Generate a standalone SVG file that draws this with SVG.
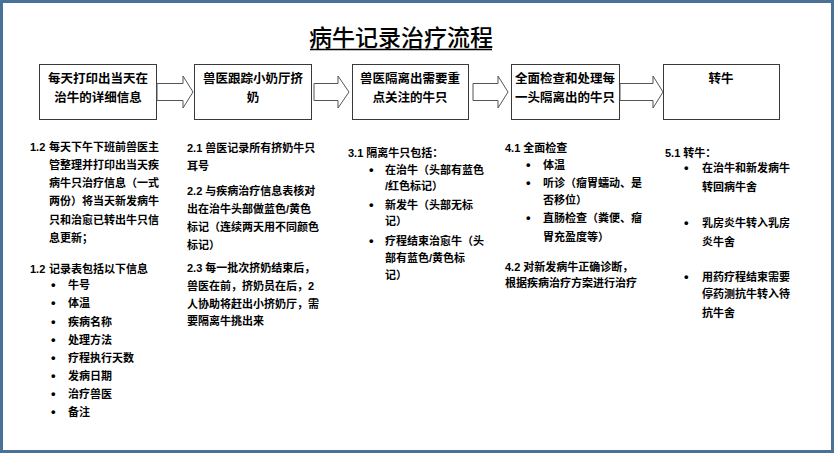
<svg xmlns="http://www.w3.org/2000/svg" width="834" height="453" viewBox="0 0 834 453">
<style>
  .frame { fill: #ffffff; stroke: #4a7196; stroke-width: 3; }
  .box { fill: #ffffff; stroke: #3a3a3a; stroke-width: 1; }
  .arrow { fill: #ffffff; stroke: #555555; stroke-width: 1; stroke-linejoin: miter; }
  text { font-family: "Liberation Sans", "Noto Sans CJK SC", sans-serif; fill: #000000; }
  .title { font-size: 23px; font-weight: 500; text-anchor: middle; }
  .bt { font-size: 12.5px; font-weight: bold; text-anchor: middle; }
  .nt { font-size: 11px; font-weight: bold; }
  .bu { font-size: 13px; font-weight: bold; }
</style>
<rect class="frame" x="1.5" y="1.5" width="831" height="450"/>

<g id="title">
  <text class="title" x="401" y="46">病牛记录治疗流程</text>
  <line x1="310" y1="49.5" x2="492" y2="49.5" stroke="#000" stroke-width="1.5"/>
</g>

<g id="node1">
  <rect class="box" x="39.5" y="64.5" width="117" height="55"/>
  <text class="bt" x="98" y="83">每天打印出当天在</text>
  <text class="bt" x="98" y="102">治牛的详细信息</text>
</g>
<g id="node2">
  <rect class="box" x="194.5" y="64.5" width="117" height="55"/>
  <text class="bt" x="253" y="83">兽医跟踪小奶厅挤</text>
  <text class="bt" x="253" y="102">奶</text>
</g>
<g id="node3">
  <rect class="box" x="352.5" y="64.5" width="116" height="55"/>
  <text class="bt" x="410" y="83">兽医隔离出需要重</text>
  <text class="bt" x="410" y="102">点关注的牛只</text>
</g>
<g id="node4">
  <rect class="box" x="511.5" y="64.5" width="108" height="55"/>
  <text class="bt" x="565" y="83">全面检查和处理每</text>
  <text class="bt" x="565" y="102">一头隔离出的牛只</text>
</g>
<g id="node5">
  <rect class="box" x="663.5" y="64.5" width="116" height="55"/>
  <text class="bt" x="721" y="83">转牛</text>
</g>

<g id="connectors">
  <polygon class="arrow" points="157,83.5 183,83.5 183,76 193,92 183,108 183,100.5 157,100.5"/>
  <polygon class="arrow" points="314,83.5 338,83.5 338,76 349,92 338,108 338,100.5 314,100.5"/>
  <polygon class="arrow" points="473,83.5 498,83.5 498,76 508,92 498,108 498,100.5 473,100.5"/>
  <polygon class="arrow" points="620,83.5 653,83.5 653,76 663,92 653,108 653,100.5 620,100.5"/>
</g>

<g id="notes1">
  <text class="nt" x="30" y="151">1.2</text>
  <text class="nt" x="49" y="151">每天下午下班前兽医主</text>
  <text class="nt" x="49" y="169">管整理并打印出当天疾</text>
  <text class="nt" x="49" y="187">病牛只治疗信息（一式</text>
  <text class="nt" x="49" y="205">两份）将当天新发病牛</text>
  <text class="nt" x="49" y="224">只和治愈已转出牛只信</text>
  <text class="nt" x="49" y="242">息更新；</text>
  <text class="nt" x="30" y="273">1.2</text>
  <text class="nt" x="49" y="273">记录表包括以下信息</text>
  <text class="bu" x="51" y="289">•</text><text class="nt" x="68" y="289">牛号</text>
  <text class="bu" x="51" y="307">•</text><text class="nt" x="68" y="307">体温</text>
  <text class="bu" x="51" y="326">•</text><text class="nt" x="68" y="326">疾病名称</text>
  <text class="bu" x="51" y="344">•</text><text class="nt" x="68" y="344">处理方法</text>
  <text class="bu" x="51" y="362">•</text><text class="nt" x="68" y="362">疗程执行天数</text>
  <text class="bu" x="51" y="380">•</text><text class="nt" x="68" y="380">发病日期</text>
  <text class="bu" x="51" y="398">•</text><text class="nt" x="68" y="398">治疗兽医</text>
  <text class="bu" x="51" y="416">•</text><text class="nt" x="68" y="416">备注</text>
</g>

<g id="notes2">
  <text class="nt" x="187" y="152">2.1 兽医记录所有挤奶牛只</text>
  <text class="nt" x="187" y="170">耳号</text>
  <text class="nt" x="187" y="195">2.2 与疾病治疗信息表核对</text>
  <text class="nt" x="187" y="213">出在治牛头部做蓝色/黄色</text>
  <text class="nt" x="187" y="231">标记（连续两天用不同颜色</text>
  <text class="nt" x="187" y="249">标记）</text>
  <text class="nt" x="187" y="272">2.3 每一批次挤奶结束后，</text>
  <text class="nt" x="187" y="290">兽医在前，挤奶员在后，2</text>
  <text class="nt" x="187" y="308">人协助将赶出小挤奶厅，需</text>
  <text class="nt" x="187" y="325">要隔离牛挑出来</text>
</g>

<g id="notes3">
  <text class="nt" x="348" y="157">3.1 隔离牛只包括：</text>
  <text class="bu" x="369" y="174">•</text><text class="nt" x="385" y="174">在治牛（头部有蓝色</text>
  <text class="nt" x="385" y="190">/红色标记）</text>
  <text class="bu" x="369" y="209">•</text><text class="nt" x="385" y="209">新发牛（头部无标</text>
  <text class="nt" x="385" y="225">记）</text>
  <text class="bu" x="369" y="245">•</text><text class="nt" x="385" y="245">疗程结束治愈牛（头</text>
  <text class="nt" x="385" y="262">部有蓝色/黄色标</text>
  <text class="nt" x="385" y="279">记）</text>
</g>

<g id="notes4">
  <text class="nt" x="505" y="152">4.1 全面检查</text>
  <text class="bu" x="526" y="169">•</text><text class="nt" x="543" y="169">体温</text>
  <text class="bu" x="526" y="187">•</text><text class="nt" x="543" y="187">听诊（瘤胃蠕动、是</text>
  <text class="nt" x="543" y="204">否移位）</text>
  <text class="bu" x="526" y="222">•</text><text class="nt" x="543" y="222">直肠检查（粪便、瘤</text>
  <text class="nt" x="543" y="241">胃充盈度等）</text>
  <text class="nt" x="505" y="271">4.2 对新发病牛正确诊断，</text>
  <text class="nt" x="505" y="287">根据疾病治疗方案进行治疗</text>
</g>

<g id="notes5">
  <text class="nt" x="665" y="157">5.1 转牛：</text>
  <text class="bu" x="684" y="172">•</text><text class="nt" x="702" y="172">在治牛和新发病牛</text>
  <text class="nt" x="702" y="191">转回病牛舍</text>
  <text class="bu" x="684" y="227">•</text><text class="nt" x="702" y="227">乳房炎牛转入乳房</text>
  <text class="nt" x="702" y="246">炎牛舍</text>
  <text class="bu" x="684" y="281">•</text><text class="nt" x="702" y="281">用药疗程结束需要</text>
  <text class="nt" x="702" y="298">停药测抗牛转入待</text>
  <text class="nt" x="702" y="317">抗牛舍</text>
</g>
</svg>
